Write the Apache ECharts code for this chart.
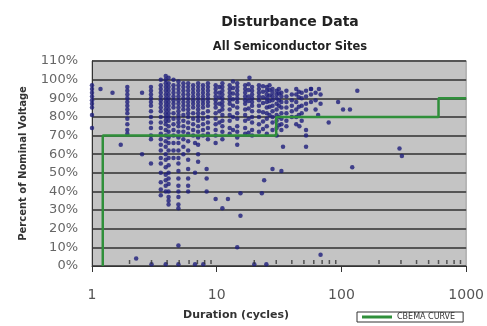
<!DOCTYPE html>
<html>
<head>
<meta charset="utf-8">
<script src="https://cdn.jsdelivr.net/npm/echarts@6/dist/echarts.min.js"></script>
<style>
  html, body { margin: 0; padding: 0; background: #fff; }
  #container { width: 487px; height: 326px; }
</style>
</head>
<body>
<div id="container"></div>
<script>
  // durations (cycles) of the dense vertical columns and the voltages (%) in each
  var columnDurations = [1.0, 1.92, 2.97, 3.56, 3.9, 4.11, 4.5, 4.93, 5.4, 5.9, 6.47, 7.09, 7.76, 8.5, 9.8,
    10.5, 11.1, 12.7, 13.5, 14.6, 16.9, 18, 19.2, 21.8, 23.5, 25.2, 26.5, 28, 30.2, 31.5, 33, 36.2, 40,
    43.4, 45.5, 48, 52, 57, 62, 68];
  var columnVoltages = [
    [97, 95, 93, 91, 89, 87, 85, 81, 74],
    [96, 94, 92, 90, 88, 86, 84, 82, 79, 76, 73, 71],
    [96, 94, 92, 90, 88, 86, 83, 80, 77, 74, 70, 68],
    [100, 97, 95, 93, 91, 89, 87, 85, 83, 80, 77, 74, 71, 68, 65, 62, 58, 55, 50, 45, 41, 38],
    [102, 100, 98, 96, 94, 92, 90, 88, 86, 84, 82, 80, 78, 76, 73, 70, 67, 64, 60, 57, 53, 49, 46, 43, 40],
    [101, 98, 96, 94, 92, 90, 88, 86, 84, 82, 80, 78, 75, 72, 69, 66, 62, 58, 54, 50, 47, 44, 40, 37, 35, 33],
    [100, 97, 95, 93, 91, 89, 87, 85, 82, 79, 76, 73, 70, 66, 62, 58],
    [99, 97, 95, 93, 91, 89, 87, 85, 83, 81, 79, 77, 75, 72, 69, 66, 62, 58, 55, 51, 47, 43, 40, 37, 33, 31],
    [98, 96, 94, 92, 90, 88, 86, 84, 81, 78, 75, 72, 68, 64, 60],
    [98, 96, 94, 92, 90, 88, 86, 84, 82, 80, 77, 74, 71, 67, 62, 57, 52, 47, 43, 40],
    [97, 95, 93, 91, 89, 87, 85, 82, 79, 76, 73, 70],
    [98, 96, 94, 92, 90, 88, 86, 84, 82, 80, 78, 75, 72, 69, 65, 60, 56],
    [97, 95, 93, 91, 89, 87, 85, 82, 79, 76, 73, 70],
    [98, 96, 94, 92, 90, 88, 86, 83, 80, 77, 74, 71, 68],
    [97, 95, 93, 91, 89, 87, 85, 82, 79, 76, 73, 70, 66],
    [96, 93, 90.5, 87, 83, 77],
    [98, 96, 94, 92, 90, 88, 86, 84, 81, 78, 75, 72, 68],
    [97, 95, 93, 91, 89, 87, 84, 81, 78, 74, 71],
    [99, 95.5, 92.5, 89.5, 86, 80, 73],
    [98, 96, 94, 92, 90, 88, 85, 82, 79, 75, 72, 69, 65],
    [97, 95, 93, 91, 89, 87, 84, 81, 78, 74, 71],
    [97.5, 94.5, 91, 88.5, 84.5, 79, 71.5],
    [96, 94, 92, 90, 88, 86, 83, 80, 77, 73, 70],
    [97, 95, 93, 91, 89, 86, 83, 80, 76, 72],
    [96.5, 93.5, 90.5, 87.5, 82.5, 77.5, 73.5],
    [96, 94, 92, 90, 88, 85, 82, 79, 75, 71],
    [97, 94.5, 91.5, 88.5, 85.5, 81],
    [95, 93, 91, 89, 86, 83, 80, 77, 73],
    [94, 92, 90, 87, 84, 81, 78, 74, 70],
    [95, 92.5, 89, 86, 80, 75.5],
    [93, 91, 88, 85, 82, 79, 76, 73],
    [94, 91, 88, 85, 82, 78, 75],
    [92, 89, 86, 83, 80],
    [95, 92, 88, 84, 80, 76],
    [93.5, 90.5, 85.5, 81],
    [93, 90, 86, 82, 78],
    [94, 91, 87, 84, 73, 70],
    [95, 92, 88],
    [93, 89, 84],
    [92, 87]
  ];
  // scattered single events [duration, voltage %]
  var scatteredEvents = [
    [1.17, 95], [1.46, 93], [1.7, 65], [2.52, 93], [2.52, 60], [2.97, 55], [4.93, 11],
    [6.7, 66], [6.7, 50], [8.3, 52], [8.3, 47], [8.3, 40], [9.8, 36], [11.1, 31], [12.3, 36],
    [15.5, 27], [15.5, 39], [14.6, 10], [18.3, 101], [23, 39], [24, 46], [28, 52],
    [34, 64], [33, 51], [46, 75], [52, 64], [65, 81], [79, 77], [66, 95], [57, 95],
    [94, 88], [103, 84], [117, 84], [122, 53], [134, 94], [292, 63], [305, 59]
  ];
  // events that dropped to (almost) zero
  var zeroEvents = [[2.26, 4], [3.0, 1], [3.9, 1], [4.93, 1], [6.7, 1], [7.8, 1], [20, 1], [25, 1], [68, 6]];
  // CBEMA curve steps
  var curveDurations = [1.22, 1.22, 30, 30, 600, 600, 1000];
  var curveVoltages = [0, 70, 70, 80, 80, 90, 90];
  // log minor tick positions
  var minorTicks = [2, 3, 4, 5, 6, 7, 8, 9, 20, 30, 40, 50, 60, 70, 80, 90, 200, 300, 400, 500, 600, 700, 800, 900];

  var points = [];
  columnDurations.forEach(function (d, i) {
    columnVoltages[i].forEach(function (v) { points.push([d, v]); });
  });
  points = points.concat(scatteredEvents, zeroEvents);

  var myChart = echarts.init(document.getElementById('container'));
  var option = {
    animation: false,
    textStyle: { fontFamily: 'DejaVu Sans' },
    title: [
      {
        text: 'Disturbance Data', left: 285, top: 10, textAlign: 'center',
        textStyle: { fontSize: 14, fontWeight: 'bold', color: '#222' }
      },
      {
        text: 'All Semiconductor Sites', left: 285, top: 36, textAlign: 'center',
        textStyle: { fontSize: 11.5, fontWeight: 'bold', color: '#222' }
      }
    ],
    legend: {
      left: 357, top: 312,
      padding: [1, 8, 1, 5],
      borderColor: '#333', borderWidth: 1,
      itemWidth: 30, itemHeight: 3,
      icon: 'rect',
      data: ['CBEMA CURVE'],
      textStyle: { fontSize: 8, color: '#333' }
    },
    grid: {
      left: 92, right: 15, top: 61, bottom: 57,
      show: true, backgroundColor: '#c4c4c4', borderColor: '#999', borderWidth: 1
    },
    xAxis: {
      type: 'log', min: 1, max: 1000,
      name: 'Duration (cycles)', nameLocation: 'middle', nameGap: 44,
      nameTextStyle: { fontSize: 11, fontWeight: 'bold', color: '#333', padding: [0, 86, 0, 0] },
      axisLine: { lineStyle: { color: '#333' } },
      axisTick: { show: true, length: 6, lineStyle: { color: '#333' } },
      axisLabel: { fontSize: 14, color: '#555', margin: 22, formatter: function (v) { return String(v); } },
      splitLine: { show: false }
    },
    yAxis: {
      type: 'value', min: 0, max: 110, interval: 10,
      name: 'Percent of Nominal Voltage', nameLocation: 'middle', nameGap: 64,
      nameTextStyle: { fontSize: 10, fontWeight: 'bold', color: '#333' },
      axisLine: { show: true, lineStyle: { color: '#333' } },
      axisTick: { show: false },
      axisLabel: { fontSize: 13, color: '#666', margin: 14, formatter: '{value}%' },
      splitLine: { show: true, lineStyle: { color: '#555', width: 2 } }
    },
    series: [
      {
        name: 'CBEMA CURVE', type: 'line', symbol: 'none',
        data: curveDurations.map(function (d, i) { return [d, curveVoltages[i]]; }),
        lineStyle: { color: '#2f8f3a', width: 2.5 },
        itemStyle: { color: '#2f8f3a' }
      },
      {
        name: 'events', type: 'scatter', symbolSize: 4.5,
        data: points,
        itemStyle: { color: '#1e1e7c' }
      },
      {
        name: 'minor', type: 'scatter', symbol: 'rect', symbolSize: [1.5, 4], symbolOffset: [0, -4],
        clip: false, silent: true,
        data: minorTicks.map(function (t) { return [t, 0]; }),
        itemStyle: { color: '#333' }
      }
    ]
  };
  myChart.setOption(option);
</script>
</body>
</html>
